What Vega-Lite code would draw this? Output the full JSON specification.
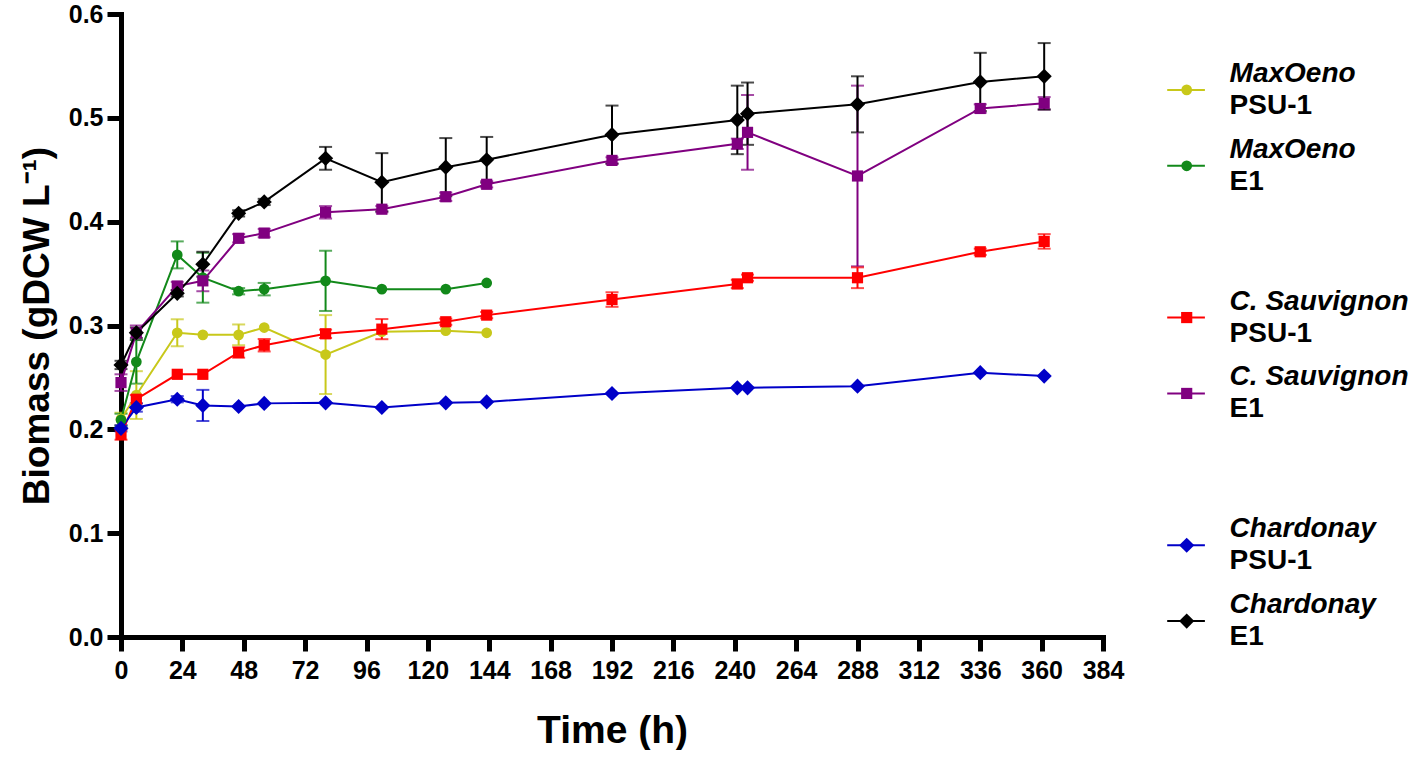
{
  "$schema": "https://vega.github.io/schema/vega-lite/v6.json",
  "background": "white",
  "padding": {"left": 18, "top": 2, "right": 0, "bottom": 0},
  "autosize": {"type": "pad"},
  "datasets": {
    "biomass": [
      {"series": "MaxOeno PSU-1", "t": 0, "biomass": 0.210, "sd": 0.006},
      {"series": "MaxOeno PSU-1", "t": 6, "biomass": 0.233, "sd": 0.023},
      {"series": "MaxOeno PSU-1", "t": 22, "biomass": 0.293, "sd": 0.013},
      {"series": "MaxOeno PSU-1", "t": 32, "biomass": 0.291, "sd": 0},
      {"series": "MaxOeno PSU-1", "t": 46, "biomass": 0.291, "sd": 0.010},
      {"series": "MaxOeno PSU-1", "t": 56, "biomass": 0.298, "sd": 0},
      {"series": "MaxOeno PSU-1", "t": 80, "biomass": 0.272, "sd": 0.038},
      {"series": "MaxOeno PSU-1", "t": 102, "biomass": 0.294, "sd": 0},
      {"series": "MaxOeno PSU-1", "t": 127, "biomass": 0.295, "sd": 0},
      {"series": "MaxOeno PSU-1", "t": 143, "biomass": 0.293, "sd": 0},

      {"series": "MaxOeno E1", "t": 0, "biomass": 0.209, "sd": 0.006},
      {"series": "MaxOeno E1", "t": 6, "biomass": 0.265, "sd": 0.021},
      {"series": "MaxOeno E1", "t": 22, "biomass": 0.368, "sd": 0.013},
      {"series": "MaxOeno E1", "t": 32, "biomass": 0.346, "sd": 0.024},
      {"series": "MaxOeno E1", "t": 46, "biomass": 0.333, "sd": 0.003},
      {"series": "MaxOeno E1", "t": 56, "biomass": 0.335, "sd": 0.006},
      {"series": "MaxOeno E1", "t": 80, "biomass": 0.343, "sd": 0.029},
      {"series": "MaxOeno E1", "t": 102, "biomass": 0.335, "sd": 0},
      {"series": "MaxOeno E1", "t": 127, "biomass": 0.335, "sd": 0},
      {"series": "MaxOeno E1", "t": 143, "biomass": 0.341, "sd": 0},

      {"series": "C. Sauvignon PSU-1", "t": 0, "biomass": 0.195, "sd": 0.005},
      {"series": "C. Sauvignon PSU-1", "t": 6, "biomass": 0.229, "sd": 0.004},
      {"series": "C. Sauvignon PSU-1", "t": 22, "biomass": 0.253, "sd": 0},
      {"series": "C. Sauvignon PSU-1", "t": 32, "biomass": 0.253, "sd": 0},
      {"series": "C. Sauvignon PSU-1", "t": 46, "biomass": 0.274, "sd": 0.005},
      {"series": "C. Sauvignon PSU-1", "t": 56, "biomass": 0.281, "sd": 0.006},
      {"series": "C. Sauvignon PSU-1", "t": 80, "biomass": 0.292, "sd": 0.004},
      {"series": "C. Sauvignon PSU-1", "t": 102, "biomass": 0.2965, "sd": 0.0097},
      {"series": "C. Sauvignon PSU-1", "t": 127, "biomass": 0.3036, "sd": 0.003},
      {"series": "C. Sauvignon PSU-1", "t": 143, "biomass": 0.310, "sd": 0.003},
      {"series": "C. Sauvignon PSU-1", "t": 192, "biomass": 0.325, "sd": 0.007},
      {"series": "C. Sauvignon PSU-1", "t": 241, "biomass": 0.340, "sd": 0.004},
      {"series": "C. Sauvignon PSU-1", "t": 245, "biomass": 0.346, "sd": 0.003},
      {"series": "C. Sauvignon PSU-1", "t": 288, "biomass": 0.346, "sd": 0.010},
      {"series": "C. Sauvignon PSU-1", "t": 336, "biomass": 0.371, "sd": 0.003},
      {"series": "C. Sauvignon PSU-1", "t": 361, "biomass": 0.381, "sd": 0.007},

      {"series": "C. Sauvignon E1", "t": 0, "biomass": 0.245, "sd": 0.008},
      {"series": "C. Sauvignon E1", "t": 6, "biomass": 0.293, "sd": 0.007},
      {"series": "C. Sauvignon E1", "t": 22, "biomass": 0.338, "sd": 0.004},
      {"series": "C. Sauvignon E1", "t": 32, "biomass": 0.343, "sd": 0.010},
      {"series": "C. Sauvignon E1", "t": 46, "biomass": 0.384, "sd": 0.004},
      {"series": "C. Sauvignon E1", "t": 56, "biomass": 0.389, "sd": 0.004},
      {"series": "C. Sauvignon E1", "t": 80, "biomass": 0.409, "sd": 0.006},
      {"series": "C. Sauvignon E1", "t": 102, "biomass": 0.412, "sd": 0.003},
      {"series": "C. Sauvignon E1", "t": 127, "biomass": 0.424, "sd": 0.004},
      {"series": "C. Sauvignon E1", "t": 143, "biomass": 0.436, "sd": 0.003},
      {"series": "C. Sauvignon E1", "t": 192, "biomass": 0.459, "sd": 0.003},
      {"series": "C. Sauvignon E1", "t": 241, "biomass": 0.475, "sd": 0.005},
      {"series": "C. Sauvignon E1", "t": 245, "biomass": 0.486, "sd": 0.036},
      {"series": "C. Sauvignon E1", "t": 288, "biomass": 0.444, "sd": 0.087},
      {"series": "C. Sauvignon E1", "t": 336, "biomass": 0.509, "sd": 0.004},
      {"series": "C. Sauvignon E1", "t": 361, "biomass": 0.514, "sd": 0.006},

      {"series": "Chardonay PSU-1", "t": 0, "biomass": 0.201, "sd": 0.003},
      {"series": "Chardonay PSU-1", "t": 6, "biomass": 0.221, "sd": 0.004},
      {"series": "Chardonay PSU-1", "t": 22, "biomass": 0.229, "sd": 0.003},
      {"series": "Chardonay PSU-1", "t": 32, "biomass": 0.223, "sd": 0.015},
      {"series": "Chardonay PSU-1", "t": 46, "biomass": 0.222, "sd": 0},
      {"series": "Chardonay PSU-1", "t": 56, "biomass": 0.225, "sd": 0},
      {"series": "Chardonay PSU-1", "t": 80, "biomass": 0.2255, "sd": 0},
      {"series": "Chardonay PSU-1", "t": 102, "biomass": 0.221, "sd": 0},
      {"series": "Chardonay PSU-1", "t": 127, "biomass": 0.2255, "sd": 0},
      {"series": "Chardonay PSU-1", "t": 143, "biomass": 0.2264, "sd": 0},
      {"series": "Chardonay PSU-1", "t": 192, "biomass": 0.2345, "sd": 0},
      {"series": "Chardonay PSU-1", "t": 241, "biomass": 0.240, "sd": 0},
      {"series": "Chardonay PSU-1", "t": 245, "biomass": 0.240, "sd": 0},
      {"series": "Chardonay PSU-1", "t": 288, "biomass": 0.2416, "sd": 0},
      {"series": "Chardonay PSU-1", "t": 336, "biomass": 0.2546, "sd": 0},
      {"series": "Chardonay PSU-1", "t": 361, "biomass": 0.2513, "sd": 0},

      {"series": "Chardonay E1", "t": 0, "biomass": 0.262, "sd": 0.004},
      {"series": "Chardonay E1", "t": 6, "biomass": 0.293, "sd": 0.005},
      {"series": "Chardonay E1", "t": 22, "biomass": 0.331, "sd": 0.003},
      {"series": "Chardonay E1", "t": 32, "biomass": 0.359, "sd": 0.012},
      {"series": "Chardonay E1", "t": 46, "biomass": 0.408, "sd": 0.003},
      {"series": "Chardonay E1", "t": 56, "biomass": 0.419, "sd": 0.003},
      {"series": "Chardonay E1", "t": 80, "biomass": 0.461, "sd": 0.011},
      {"series": "Chardonay E1", "t": 102, "biomass": 0.438, "sd": 0.028},
      {"series": "Chardonay E1", "t": 127, "biomass": 0.4525, "sd": 0.028},
      {"series": "Chardonay E1", "t": 143, "biomass": 0.4596, "sd": 0.022},
      {"series": "Chardonay E1", "t": 192, "biomass": 0.4838, "sd": 0.028},
      {"series": "Chardonay E1", "t": 241, "biomass": 0.498, "sd": 0.033},
      {"series": "Chardonay E1", "t": 245, "biomass": 0.504, "sd": 0.030},
      {"series": "Chardonay E1", "t": 288, "biomass": 0.513, "sd": 0.027},
      {"series": "Chardonay E1", "t": 336, "biomass": 0.5346, "sd": 0.028},
      {"series": "Chardonay E1", "t": 361, "biomass": 0.540, "sd": 0.032}
    ],
    "legend": [
      {"series": "MaxOeno PSU-1", "species": "MaxOeno", "strain": "PSU-1"},
      {"series": "MaxOeno E1", "species": "MaxOeno", "strain": "E1"},
      {"series": "C. Sauvignon PSU-1", "species": "C. Sauvignon", "strain": "PSU-1"},
      {"series": "C. Sauvignon E1", "species": "C. Sauvignon", "strain": "E1"},
      {"series": "Chardonay PSU-1", "species": "Chardonay", "strain": "PSU-1"},
      {"series": "Chardonay E1", "species": "Chardonay", "strain": "E1"}
    ]
  },
  "spacing": 46,
  "bounds": "flush",
  "hconcat": [
    {
      "width": 982,
      "height": 623,
      "data": {"name": "biomass"},
      "encoding": {
        "x": {
          "field": "t",
          "type": "quantitative",
          "scale": {"domain": [0, 384], "nice": false, "zero": false},
          "axis": {
            "title": "Time (h)",
            "values": [0, 24, 48, 72, 96, 120, 144, 168, 192, 216, 240, 264, 288, 312, 336, 360, 384],
            "labelFlush": false,
            "labelOverlap": false
          }
        },
        "y": {
          "field": "biomass",
          "type": "quantitative",
          "scale": {"domain": [0, 0.6], "nice": false},
          "axis": {
            "title": "Biomass (gDCW L⁻¹)",
            "values": [0, 0.1, 0.2, 0.3, 0.4, 0.5, 0.6],
            "format": ".1f",
            "labelFlush": false
          }
        },
        "color": {
          "field": "series",
          "type": "nominal",
          "scale": {
            "domain": ["MaxOeno PSU-1", "MaxOeno E1", "C. Sauvignon PSU-1", "C. Sauvignon E1", "Chardonay PSU-1", "Chardonay E1"],
            "range": ["#c8c81a", "#12891a", "#ff0000", "#800080", "#0000c8", "#000000"]
          },
          "legend": null
        }
      },
      "layer": [
        {
          "transform": [{"filter": "datum.sd > 0"}],
          "mark": {"type": "errorbar", "ticks": true, "size": 13, "thickness": 2},
          "encoding": {"yError": {"field": "sd"}}
        },
        {
          "mark": {"type": "line", "strokeWidth": 2}
        },
        {
          "mark": {"type": "point", "filled": true, "opacity": 1},
          "encoding": {
            "shape": {
              "field": "series",
              "type": "nominal",
              "scale": {
                "domain": ["MaxOeno PSU-1", "MaxOeno E1", "C. Sauvignon PSU-1", "C. Sauvignon E1", "Chardonay PSU-1", "Chardonay E1"],
                "range": ["circle", "circle", "square", "square", "diamond", "diamond"]
              },
              "legend": null
            },
            "size": {
              "field": "series",
              "type": "nominal",
              "scale": {
                "type": "ordinal",
                "domain": ["MaxOeno PSU-1", "MaxOeno E1", "C. Sauvignon PSU-1", "C. Sauvignon E1", "Chardonay PSU-1", "Chardonay E1"],
                "range": [115, 115, 125, 125, 230, 230]
              },
              "legend": null
            }
          }
        }
      ]
    },
    {
      "width": 260,
      "height": 683,
      "data": {"name": "legend"},
      "encoding": {
        "y": {
          "field": "series",
          "type": "ordinal",
          "scale": {
            "domain": ["MaxOeno PSU-1", "MaxOeno E1", "gap 1", "C. Sauvignon PSU-1", "C. Sauvignon E1", "gap 2", "Chardonay PSU-1", "Chardonay E1"],
            "padding": 1.05
          },
          "axis": null
        },
        "color": {
          "field": "series",
          "type": "nominal",
          "scale": {
            "domain": ["MaxOeno PSU-1", "MaxOeno E1", "C. Sauvignon PSU-1", "C. Sauvignon E1", "Chardonay PSU-1", "Chardonay E1"],
            "range": ["#c8c81a", "#12891a", "#ff0000", "#800080", "#0000c8", "#000000"]
          },
          "legend": null
        }
      },
      "layer": [
        {
          "mark": {"type": "rule", "strokeWidth": 2},
          "encoding": {
            "x": {"datum": 0.7, "type": "quantitative", "scale": {"domain": [0, 10], "nice": false, "zero": false}, "axis": null},
            "x2": {"datum": 2.15}
          }
        },
        {
          "mark": {"type": "point", "filled": true, "opacity": 1},
          "encoding": {
            "x": {"datum": 1.45, "type": "quantitative"},
            "shape": {
              "field": "series",
              "type": "nominal",
              "scale": {
                "domain": ["MaxOeno PSU-1", "MaxOeno E1", "C. Sauvignon PSU-1", "C. Sauvignon E1", "Chardonay PSU-1", "Chardonay E1"],
                "range": ["circle", "circle", "square", "square", "diamond", "diamond"]
              },
              "legend": null
            },
            "size": {
              "field": "series",
              "type": "nominal",
              "scale": {
                "type": "ordinal",
                "domain": ["MaxOeno PSU-1", "MaxOeno E1", "C. Sauvignon PSU-1", "C. Sauvignon E1", "Chardonay PSU-1", "Chardonay E1"],
                "range": [115, 115, 125, 125, 230, 230]
              },
              "legend": null
            }
          }
        },
        {
          "mark": {"type": "text", "align": "left", "baseline": "middle", "dy": -16, "font": "Liberation Sans", "fontSize": 28, "fontWeight": "bold", "fontStyle": "italic"},
          "encoding": {
            "x": {"datum": 3.1, "type": "quantitative"},
            "text": {"field": "species"},
            "color": {"value": "black"}
          }
        },
        {
          "mark": {"type": "text", "align": "left", "baseline": "middle", "dy": 16, "font": "Liberation Sans", "fontSize": 28, "fontWeight": "bold"},
          "encoding": {
            "x": {"datum": 3.1, "type": "quantitative"},
            "text": {"field": "strain"},
            "color": {"value": "black"}
          }
        }
      ]
    }
  ],
  "config": {
    "view": {"stroke": null},
    "font": "Liberation Sans",
    "axis": {
      "grid": false,
      "domainColor": "black",
      "domainWidth": 5,
      "domainCap": "square",
      "tickColor": "black",
      "tickWidth": 5,
      "tickSize": 14,
      "labelFont": "Liberation Sans",
      "labelFontSize": 25,
      "labelFontWeight": "bold",
      "labelColor": "black",
      "titleFont": "Liberation Sans",
      "titleFontSize": 37,
      "titleFontWeight": "bold",
      "titleColor": "black"
    },
    "axisX": {"labelPadding": 7, "titlePadding": 28, "titleFontSize": 39},
    "axisY": {"labelPadding": 4, "titlePadding": 12}
  }
}
